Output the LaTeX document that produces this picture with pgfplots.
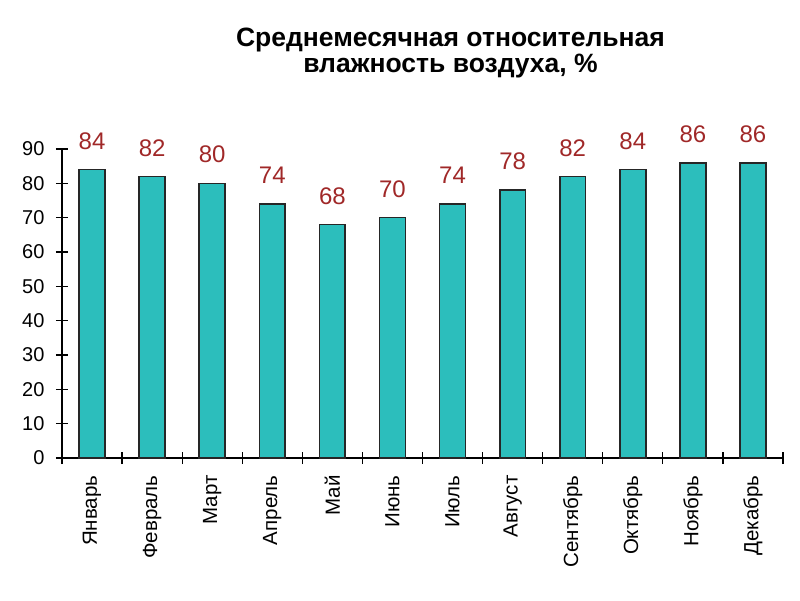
\documentclass[border=0pt]{standalone}
\usepackage{fontspec}
\setmainfont{Liberation Sans}
\usepackage{pgfplots}
\pgfplotsset{compat=1.18}
\definecolor{barteal}{RGB}{44,190,188}
\definecolor{valred}{RGB}{160,40,40}

\begin{document}
\begin{tikzpicture}
\begin{axis}[
    name=ax,
    at={(0,0)}, anchor=south west,
    scale only axis,
    width=721pt, height=309pt,
    xmin=-0.5, xmax=11.5,
    ymin=0, ymax=90,
    axis lines*=left,
    axis line style={line width=1.3pt},
    ybar, bar width=0.43,
    xtick={0,...,11},
    xticklabels={Январь,Февраль,Март,Апрель,Май,Июнь,Июль,Август,Сентябрь,Октябрь,Ноябрь,Декабрь},
    x tick label style={rotate=90, anchor=east, font=\fontsize{20.5}{22}\selectfont, xshift=-8pt},
    major x tick style={draw=none},
    minor xtick={-0.5,0.5,...,11.5},
    minor tick length=12pt,
    minor x tick style={line width=1.3pt, black},
    ytick={0,10,...,90},
    y tick label style={font=\fontsize{20}{22}\selectfont, xshift=-8pt},
    major y tick style={line width=1.3pt, black},
    tick align=center, major tick length=12pt,
    /pgf/number format/assume math mode=true,
    nodes near coords,
    nodes near coords style={font=\fontsize{24}{26}\selectfont, text=valred, yshift=16pt},
]
\addplot[fill=barteal, draw=black!85, line width=1.6pt] coordinates {
    (0,84) (1,82) (2,80) (3,74) (4,68) (5,70)
    (6,74) (7,78) (8,82) (9,84) (10,86) (11,86)
};
\end{axis}
\node[anchor=south, align=center, font=\bfseries\fontsize{26.5}{26.5}\selectfont]
    at ([xshift=28pt, yshift=67pt]ax.north) {Среднемесячная относительная\\влажность воздуха, \%};
\pgfresetboundingbox
\path (-62pt,-142pt) rectangle (738pt,458pt);
\end{tikzpicture}
\end{document}
